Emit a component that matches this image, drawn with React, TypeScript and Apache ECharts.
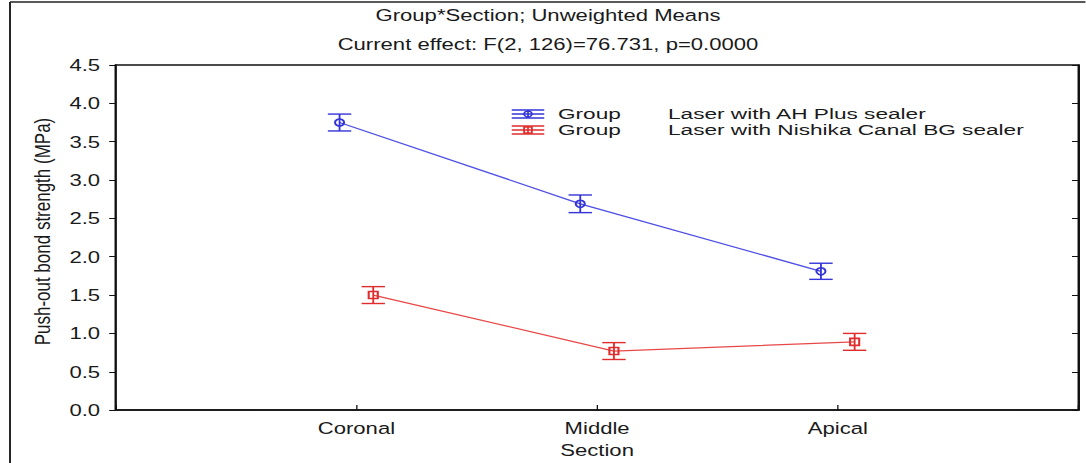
import React, { useEffect, useRef } from "react";
import * as echarts from "echarts";

const categories = ["Coronal", "Middle", "Apical"];
const ahPlusMeans = [3.75, 2.69, 1.81];
const ahPlusErrors = [0.11, 0.115, 0.105];
const nishikaMeans = [1.5, 0.77, 0.89];
const nishikaErrors = [0.11, 0.11, 0.11];
const seriesNames = ["Laser with AH Plus sealer", "Laser with Nishika Canal BG sealer"];
const legendPrefix = "Group";
const titleLines = ["Group*Section; Unweighted Means", "Current effect: F(2, 126)=76.731, p=0.0000"];
const yAxisName = "Push-out bond strength (MPa)";
const xAxisName = "Section";

const STRETCH = 1.3;
const W = 1086 / STRETCH;
const H = 463;
const FONT = "Liberation Sans, Arial, sans-serif";
const BLUE = "#3434d8";
const BLUE_LINE = "#5050e4";
const RED = "#e02c2c";
const RED_LINE = "#e84848";
const OFFSET = 0.07;

function errorBars(means: number[], errs: number[], dx: number) {
  return means.map((m, i) => [i + 1 + dx, m - errs[i], m + errs[i]]);
}

function makeErrorSeries(data: number[][], color: string) {
  return {
    type: "custom",
    z: 5,
    data,
    renderItem: (params: any, api: any) => {
      const x = api.value(0);
      const lo = api.coord([x, api.value(1)]);
      const hi = api.coord([x, api.value(2)]);
      const cap = 9;
      const style = { stroke: color, lineWidth: 1.4 };
      return {
        type: "group",
        children: [
          { type: "line", shape: { x1: lo[0], y1: lo[1], x2: hi[0], y2: hi[1] }, style },
          { type: "line", shape: { x1: lo[0] - cap, y1: lo[1], x2: lo[0] + cap, y2: lo[1] }, style },
          { type: "line", shape: { x1: hi[0] - cap, y1: hi[1], x2: hi[0] + cap, y2: hi[1] }, style },
        ],
      };
    },
  };
}

function legendIcon(cx: number, cy: number, color: string, marker: "circle" | "square") {
  const half = 12.5;
  const s = { stroke: color, lineWidth: 1.3 };
  const children: any[] = [
    { type: "line", shape: { x1: cx - half, y1: cy - 4, x2: cx + half, y2: cy - 4 }, style: s },
    { type: "line", shape: { x1: cx - half, y1: cy, x2: cx + half, y2: cy }, style: s },
    { type: "line", shape: { x1: cx - half, y1: cy + 4, x2: cx + half, y2: cy + 4 }, style: s },
    { type: "line", shape: { x1: cx, y1: cy - 4, x2: cx, y2: cy + 4 }, style: s },
  ];
  if (marker === "circle") {
    children.push({ type: "circle", shape: { cx, cy, r: 3 }, style: { fill: "none", stroke: color, lineWidth: 1.4 } });
  } else {
    children.push({ type: "rect", shape: { x: cx - 3, y: cy - 3, width: 6, height: 6 }, style: { fill: "none", stroke: color, lineWidth: 1.4 } });
  }
  return { type: "group", children };
}

export default function App() {
  const ref = useRef<HTMLDivElement>(null);
  useEffect(() => {
    if (!ref.current) return;
    const chart = echarts.init(ref.current, null, { renderer: "svg" });
    const textStyle = { fontFamily: FONT, fontSize: 17, color: "#1a1a1a" };
    const titleCx = 548 / STRETCH;
    const legendX = 528 / STRETCH;
    const legendY = [114, 130];
    const legendText = (text: string, x: number, y: number) => ({
      type: "text",
      x,
      y,
      scaleX: 1.16,
      style: { text, x: 0, y: 0, textVerticalAlign: "middle", fontFamily: FONT, fontSize: 15, fill: "#1a1a1a" },
    });
    chart.setOption({
      animation: false,
      backgroundColor: "#ffffff",
      grid: {
        left: 89,
        right: W - 830,
        top: 65,
        bottom: 49,
        show: true,
        borderColor: "#111",
        borderWidth: 1.5,
        backgroundColor: "transparent",
      },
      xAxis: {
        type: "value",
        min: 0,
        max: 4,
        interval: 1,
        axisLine: { show: true, lineStyle: { color: "#111", width: 1.5 } },
        axisTick: { show: true, inside: true, length: 5, lineStyle: { color: "#111" } },
        splitLine: { show: false },
        axisLabel: {
          ...textStyle,
          margin: 9,
          formatter: (v: number) => categories[v - 1] ?? "",
        },
        name: xAxisName,
        nameLocation: "middle",
        nameGap: 30,
        nameTextStyle: textStyle,
      },
      yAxis: [
        {
          type: "value",
          min: 0,
          max: 4.5,
          interval: 0.5,
          position: "left",
          axisLine: { show: true, lineStyle: { color: "#111", width: 1.5 } },
          axisTick: { show: true, inside: false, length: 5, lineStyle: { color: "#111" } },
          splitLine: { show: false },
          axisLabel: { ...textStyle, margin: 12, formatter: (v: number) => v.toFixed(1) },
          name: yAxisName,
          nameLocation: "middle",
          nameGap: 48,
          nameRotate: 90,
          nameTextStyle: { ...textStyle, fontSize: 17, padding: [0, 0, 0, 12] },
        },
        {
          type: "value",
          min: 0,
          max: 4.5,
          interval: 0.5,
          position: "right",
          axisLine: { show: true, lineStyle: { color: "#111", width: 1.5 } },
          axisTick: { show: true, inside: true, length: 5, lineStyle: { color: "#111" } },
          splitLine: { show: false },
          axisLabel: { show: false },
        },
      ],
      series: [
        {
          name: seriesNames[0],
          type: "line",
          z: 4,
          data: ahPlusMeans.map((v, i) => [i + 1 - OFFSET, v]),
          symbol: "circle",
          symbolSize: 7,
          lineStyle: { color: BLUE_LINE, width: 1.3 },
          itemStyle: { color: "rgba(255,255,255,0)", borderColor: BLUE, borderWidth: 1.6 },
        },
        {
          name: seriesNames[1],
          type: "line",
          z: 4,
          data: nishikaMeans.map((v, i) => [i + 1 + OFFSET, v]),
          symbol: "rect",
          symbolSize: 7,
          lineStyle: { color: RED_LINE, width: 1.3 },
          itemStyle: { color: "rgba(255,255,255,0)", borderColor: RED, borderWidth: 1.6 },
        },
        makeErrorSeries(errorBars(ahPlusMeans, ahPlusErrors, -OFFSET), BLUE),
        makeErrorSeries(errorBars(nishikaMeans, nishikaErrors, OFFSET), RED),
      ],
      graphic: [
        { type: "line", shape: { x1: 7.7, y1: 2, x2: W, y2: 2 }, style: { stroke: "#222", lineWidth: 1.5 } },
        { type: "line", shape: { x1: 7.7, y1: 2, x2: 7.7, y2: H }, style: { stroke: "#222", lineWidth: 1.5 } },
        {
          type: "text",
          style: { text: titleLines[0], x: titleCx, y: 15, textAlign: "center", textVerticalAlign: "middle", fontFamily: FONT, fontSize: 17, fill: "#1a1a1a" },
        },
        {
          type: "text",
          style: { text: titleLines[1], x: titleCx, y: 44, textAlign: "center", textVerticalAlign: "middle", fontFamily: FONT, fontSize: 17, fill: "#1a1a1a" },
        },
        legendIcon(legendX, legendY[0], BLUE, "circle"),
        legendIcon(legendX, legendY[1], RED, "square"),
        legendText(legendPrefix, 558 / STRETCH, legendY[0]),
        legendText(legendPrefix, 558 / STRETCH, legendY[1]),
        legendText(seriesNames[0], 668 / STRETCH, legendY[0]),
        legendText(seriesNames[1], 668 / STRETCH, legendY[1]),
      ],
    });
    return () => chart.dispose();
  }, []);
  return (
    <div
      ref={ref}
      style={{
        position: "absolute",
        left: 0,
        top: 0,
        width: W,
        height: H,
        transform: `scaleX(${STRETCH})`,
        transformOrigin: "0 0",
      }}
    />
  );
}
